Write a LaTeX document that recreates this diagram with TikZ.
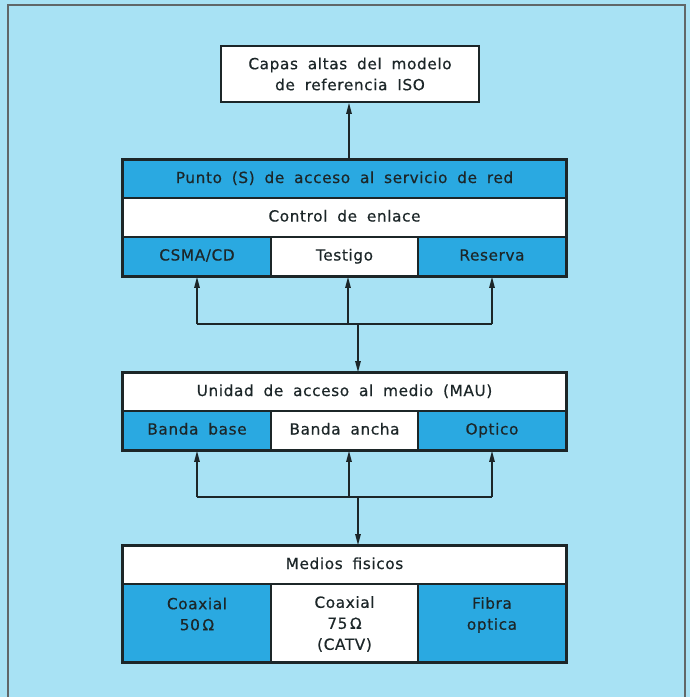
\documentclass[tikz,border=0pt]{standalone}
\usepackage{fontspec}
\setmainfont[LetterSpace=4, WordSpace=1.8, FakeBold=0.5]{DejaVu Sans}
\usetikzlibrary{arrows.meta,calc}
\definecolor{bgcyan}{HTML}{A8E2F4}
\definecolor{cellblue}{HTML}{2AA9E1}
\definecolor{ink}{HTML}{1C2628}
\tikzset{
  cell/.style={draw=ink, line width=1.8pt, inner sep=0pt, align=center, text=ink,
    font=\fontsize{15.3}{21}\selectfont},
  one/.style={text height=11pt, text depth=3pt},
  wcell/.style={cell, fill=white},
  bcell/.style={cell, fill=cellblue},
  grp/.style={draw=ink, line width=2.6pt},
  conn/.style={draw=ink, line width=1.3pt},
  arr/.style={conn, -{Triangle[length=11pt,width=5.5pt]}},
}
\begin{document}
\begin{tikzpicture}[x=1pt,y=-1pt]
\useasboundingbox (0,0) rectangle (690,697);
\fill[bgcyan] (0,0) rectangle (690,697);
\draw[draw=ink!70, line width=1.5pt] (8,697) -- (8,5) -- (685,5) -- (685,697);

% top box
\node[wcell, minimum width=258pt, minimum height=56pt] (top) at (350,74)
  {Capas altas del modelo\\de referencia ISO};

% group 1
\node[bcell, one, minimum width=443pt, minimum height=38pt] (sap) at (344.5,179)
  {Punto (S) de acceso al servicio de red};
\node[wcell, one, minimum width=443pt, minimum height=39pt] (llc) at (344.5,217.5)
  {Control de enlace};
\node[bcell, one, minimum width=148pt, minimum height=39pt] (csma) at (197,256.5) {CSMA/CD};
\node[wcell, one, minimum width=147pt, minimum height=39pt] (testigo) at (344.5,256.5) {Testigo};
\node[bcell, one, minimum width=148pt, minimum height=39pt] (reserva) at (492,256.5) {Reserva};
\draw[grp] (sap.north west) rectangle (reserva.south east);

% group 2
\node[wcell, one, minimum width=443pt, minimum height=38pt] (mau) at (344.5,392)
  {Unidad de acceso al medio (MAU)};
\node[bcell, one, minimum width=148pt, minimum height=39pt] (bbase) at (197,430.5) {Banda base};
\node[wcell, one, minimum width=147pt, minimum height=39pt] (bancha) at (344.5,430.5) {Banda ancha};
\node[bcell, one, minimum width=148pt, minimum height=39pt] (optico) at (492,430.5) {Optico};
\draw[grp] (mau.north west) rectangle (optico.south east);

% group 3
\node[wcell, one, minimum width=443pt, minimum height=38pt] (medios) at (344.5,565)
  {Medios fisicos};
\node[bcell, minimum width=148pt, minimum height=78pt] (coax50) at (197,623) {};
\node[wcell, minimum width=147pt, minimum height=78pt] (coax75) at (344.5,623) {};
\node[bcell, minimum width=148pt, minimum height=78pt] (fibra) at (492,623) {};
\draw[grp] (medios.north west) rectangle (fibra.south east);
\node[cell, draw=none] (t50) at (197,614) {Coaxial\\50\,Ω};
\node[cell, draw=none] (t75) at (344.5,624) {Coaxial\\75\,Ω\\(CATV)};
\node[cell, draw=none] (tfib) at (492,615) {Fibra\\optica};

% connectors group1 -> top
\draw[arr] (sap.north -| 349,0) -- (top.south -| 349,0);

% connectors group2 -> group1
\coordinate (j1) at (358,324);
\coordinate (m1) at (348,324);
\draw[conn] (j1 -| csma.south) -- (j1 -| reserva.south);
\draw[arr] (j1 -| csma.south) -- (csma.south);
\draw[arr] (m1) -- (m1 |- testigo.south);
\draw[arr] (j1 -| reserva.south) -- (reserva.south);
\draw[arr] (j1) -- (j1 |- mau.north);

% connectors group3 -> group2
\coordinate (j2) at (358,497);
\coordinate (m2) at (349,497);
\draw[conn] (j2 -| bbase.south) -- (j2 -| optico.south);
\draw[arr] (j2 -| bbase.south) -- (bbase.south);
\draw[arr] (m2) -- (m2 |- bancha.south);
\draw[arr] (j2 -| optico.south) -- (optico.south);
\draw[arr] (j2) -- (j2 |- medios.north);
\end{tikzpicture}
\end{document}
